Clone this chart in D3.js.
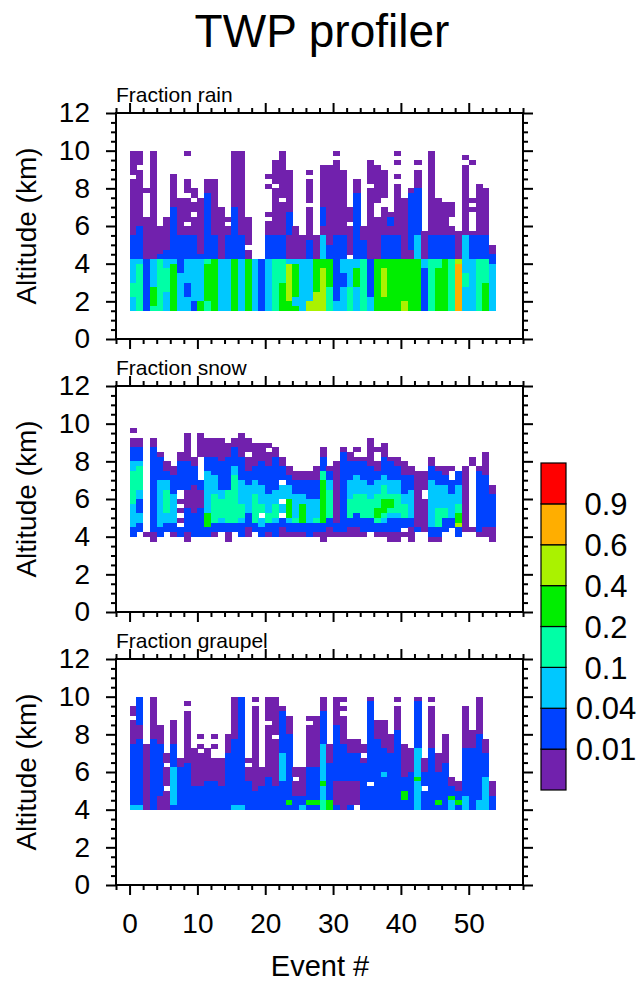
<!DOCTYPE html>
<html><head><meta charset="utf-8">
<script src="https://cdn.jsdelivr.net/npm/d3@7"></script>
<style>
body{margin:0;background:#fff}
text{font-family:"Liberation Sans",Arial,Helvetica,sans-serif;fill:#000}
</style></head>
<body><svg id="chart" width="639" height="982"></svg>
<script>
// ---------------- data ----------------
const xTicks = [0, 10, 20, 30, 40, 50];
const xMinorTicks = [-2, 2, 4, 6, 8, 12, 14, 16, 18, 22, 24, 26, 28, 32, 34, 36, 38, 42, 44, 46, 48, 52, 54, 56, 58];
const yTicks = [0, 2, 4, 6, 8, 10, 12];
const yMinorTicks = [0.5,1,1.5,2.5,3,3.5,4.5,5,5.5,6.5,7,7.5,8.5,9,9.5,10.5,11,11.5];
const colorLevels = [0.01, 0.04, 0.1, 0.2, 0.4, 0.6, 0.9];
const colorbarLabels = ["0.01", "0.04", "0.1", "0.2", "0.4", "0.6", "0.9"];
const palette = ["#7121ad", "#0042ff", "#00c8ff", "#00ffa6", "#00ee00", "#aaf200", "#ffae00", "#ff0000"];
// cell codes -> representative fraction value
const codeValue = {a: 0.005, b: 0.02, c: 0.07, d: 0.15, e: 0.3, f: 0.5, g: 0.75, h: 0.95};
const binSize = 0.25; // km
const panelTitles = ["Fraction rain", "Fraction snow", "Fraction graupel"];
const topAltitude = [10.0, 9.75, 10.0]; // km, top of first bin in each column string

// rain: columns (event 0..53), bins from 10 km downward ("|" separators only for readability)
const rainCols = [
"aaaaa.aaaaaaaaaaaa|bbbbb|cccccdddccc",
"aaa.aaaaaaaaaaaabb|bbbbb|cdddddddddd",
"........a.....aaaa|aaaaa|bbbbbbbbbbb",
"aaaaaaaaaaaaaaaaaa|aaaaa|cccccceeeed",
"................aa|aaaab|ddddddddddd",
"..............aaaa|aaabb|ccdddddcccc",
".....aaaaaaabbbbbb|bbbbb|ceeeeeeeeee",
"..........aaaaaaaa|bbbbb|bbbcccccccc",
"a.....aaa.aaaaa.aa|bbbbb|cccccbbbccc",
"........aa.aa.aaaa|bbbbb|cccccccccbb",
"..........aaaaaaaa|aaaab|cccccccccee",
"......aaabbbbbbbbb|bbbbb|deeeeeeeedd",
"......aaaaaaaaaaaa|bbbbb|eeeeeeeeeee",
"............aaaaaa|aaaaa|ccccccccccc",
"..............a.aa|bbbbb|ccccccccccc",
"aaaaaaaaaaaabbbbbb|bbbbb|eeeeeeeeeee",
"aaaaaaaaaaaaaaaaaa|bbbbb|ccccccccccc",
"..............aaaa|aa.aa|eeeeeeeeeee",
"..................|.....|ccccccccccc",
"..................|.....|bbbbbbbbbbb",
".....a.a.....a.aaa|bbbbb|ccccccccccc",
"..aaaaa.aaaaaaaaaa|bbbbb|ddddddddddd",
"aaaaaaaaaa.aaaaaaa|bbbbb|dddddeeeeee",
"....aaaaaaaaabbbbb|aaaaa|cffffffffee",
"................aa|aaaaa|ceeeeeeecce",
"..................|aaaaa|ccccccccccc",
"....a.aaaaa.aaaaaa|abbbb|cccccccccff",
"..................|aaaaa|eeeeeeeffff",
"...aaaaaaaaabbbbaa|ccccc|eefffffffff",
"...aaaaaaaaaaaaaaa|aabbb|eeeeeeddddd",
"a.aaaaaaaaaaaaaaaa|bbbbb|bbbbbbbbbcc",
"....aaaaaaaaaaaaaa|bbbbb|cccbbbccccc",
"............aaa.aa|aaaa.|ccccccddddd",
"......aaabbbbbbbbb|bbbbb|cceeeeccccc",
"................aa|abbbb|ddddddddddd",
"..aaaaa.aaaaaaaaaa|aaaaa|bbbbbbbbccc",
"...aaaaaaaa...aaaa|aaaaa|eeeeeeeeeee",
"....aaaaaa..aaaaaa|bbbbb|eeffffffeee",
".............abbaa|bbbbb|eeeeeeeeeee",
"a.a..a.aaaaaaaaaaa|bbbbb|eeeeeeeeeee",
"..........aaaaaaaa|aaaaa|eeeeeeeeeff",
"........abbbbbbbbb|bbbaa|eeeeeeeeeee",
"..a.aaaabbbbbbbbbb|ccccc|eeeeeeeeeee",
".................a|aaaaa|ccbbbbbbbbb",
"aaaaaaaaaaaaaaaaaa|bbbbb|ddddddddddd",
"..........aaaaaaaa|bbbbb|ddeeeeeeeee",
"...........aaaaaaa|bbbbb|eeeeeeeeeee",
"...........aaa..aa|bbbbb|ddddddddddd",
".................a|aaaaa|fgggggggggg",
".a.aaaaaaaaaaaaaaa|ccccc|cccdddccccc",
"..a.......a.a....a|bbbbb|ccccccccccc",
".......aaaaaaaaaaa|bbbbb|ddddddddddd",
"........aaaaaaaaaa|bbbbb|dddddeeeeee",
"..................|..aab|bcccccccccc"
];

// snow: bins from 9.75 km downward
const snowCols = [
"a.aabbbccdddddddcccccbb.",
"..aabbbcdddddccbbbccbb..",
"......................a.",
"..aabbbbbbbbbbbbbbbbbbaa",
".....abbbbbccccccccccbb.",
".......aabbccdddddccbb..",
"........aabbbbccccccbba.",
".....aabbbbbb..a.a.a.bb.",
".aaaaaabbbbbbaaaabbbbbaa",
"......aabbbbaaaaaabbbbb.",
".aaaaa.....bbaaaabbbbbb.",
"..aaaabbbccccccccceeebb.",
"..aaaabbbbccccddddddbba.",
"..aaaaabbbbbbccddddcbb..",
"...aaabbbbbbbdddddddbbaa",
"..aabbbbccddddddddddbb..",
".aaaaabbbbbcccccdddcbbb.",
"..aaa.aaabbbccccccbbbaa.",
"...aaaaabbbcccddddddbb..",
"...aaaabbbbbccccdd.ccbb.",
"...a.aaabbbbbbccccddbba.",
"....aabbbbbbbcccdddcbbb.",
"......aabbb.ccc.cc.bbaa.",
"........aabbccceeeecbba.",
".........aabbbcccccdbba.",
".........aabbbcceeeebba.",
".........aabbbbcccccbbb.",
"........aaabbbbccccdbba.",
"....aabbbddeeeeeeeeebbaa",
"........abbccddddddbbaa.",
".......aaaaaaaaaaaaabba.",
"....abbbbbbbbbbbbbbbbba.",
".....aabbbbccccddddbbaa.",
"....a.abbbccccddddbbbaa.",
"......abbbbcccdddddbbba.",
"..aaaaaabbbbcccddddbbb..",
"....a..aabbcccdddeedbba.",
"...aaabbbbccdddeeedcbba.",
"......abbbbcccdeedcbbbaa",
"......aabbbcccddddcbbbaa",
".......aaabbbbccdddbb.a.",
"........aabbbccccccbbaaa",
".........aaaaaaaaaaaab..",
".........aaaa..aaaaaaa..",
"......aabbbccccccccccbba",
"........abbbcccccddddbba",
"........aabbcccccddbbb..",
"........a..bbbcccccbb...",
".........bbbccccddeefbb.",
"........aaaaaaaaaaaaaa..",
"......aa.............a..",
"........abbbbbbbbbbbbba.",
".....aaaaabbbbbbbbbbbaa.",
"............aabbbbbbbaaa"
];

// graupel: bins from 10 km downward
const graupelCols = [
"..aa.aaaaabbbbbbbbbbbbbc",
"bbbbbbaaabbbbbbbbbbbbbbc",
"..........aaaaaaaaaaaaaa",
"aaaaaaaaabbbbbbbbbbbbbbb",
"......aaaabbbbbbbbbbbaaa",
"............aa.aaaa.aaaa",
".....aaaaabbbbbccccccccb",
".............aabbbbbbbbb",
".a.aaaaaaaaaaabbbbbbbbbb",
"...........aaaaaaaabbbbb",
"........a.a.aaaaaaabbbbb",
"...........aaaaaaabbbbbb",
"........a.a..aaaaabbbbbb",
".............aaaaaabbbbb",
"........aaaabbbbbbbbbbbb",
"aaaaaaaaabbbbbbbbbbbbbbc",
"bbbbbbbbbbbbbbbbbbbbbbbc",
".............a.aaabbbbbb",
"a.aaaaaaaaaaaaaaaaaabbbb",
"...............aaaabbbbb",
"aaaaa.aaaaaaaaaaabbbbbbb",
"aaaaaaaa.aaaaaaaaaabbbbb",
"..abbbbbbbbbccccccbbbbbb",
"....aaaabbbbbbbbbbbbbbeb",
"...............aa.aaabbb",
"...............aaaaaabbc",
"....a.aaaaaaaaabbbbbbbeb",
"....aaaaaaaaaaabbbbbbbeb",
"aaabbbbbbbccccccccecccdd",
"..........aaaabbbbbbbbee",
"aaaaaabbbbbbbbbbbbaaaaab",
"a.a.aaaaaabbbbbbbbaaaaaa",
".........aaabbbbbbaaaaab",
".........aaabbbbbbaaaaa.",
"..........aa.abbbbbbbbbb",
"abbbbbbbbbbbbbbbbb.bbbbb",
".....aaaabbbbbbbbbbbbbbb",
".....aaaaaabbbbbcbbbbbbb",
"........aaaabbbbbbbbbbbb",
"a.aaaaabbbbbbbbbbbbbbbbb",
"..........aaaaaaabbbeebb",
"...........aaaaabbbbbbbb",
"abbbbbbbbbbccccccecccccc",
".............aaabbb.bbbb",
"a.aaaaaaaaabbbbbbbbbbbbb",
"............aaaabbbbbbeb",
"........aaaaaabbbbbbbbbb",
".................aabbecc",
"..................aabbeb",
"..aaaaaaaaabbbbbbbbbbccc",
".......aaaabbbbbbbbbbbbb",
"aaaaaaaabbbbbbbbbbbbbbcc",
".........aaabbbbbccccccc",
"..................aaabbb"
];
const panelData = [rainCols, snowCols, graupelCols];

// ---------------- layout ----------------
const W = 639, H = 982;
const plotLeft = 116, plotRight = 523;
const panelTops = [113, 386, 659];
const panelH = 226;
const svg = d3.select("#chart");

const x = d3.scaleLinear().domain([-2, 58]).range([plotLeft, plotRight]);
const color = d3.scaleThreshold().domain(colorLevels).range(palette);

svg.append("text").attr("x", 322).attr("y", 47).attr("text-anchor", "middle")
  .style("font-size", "46px").text("TWP profiler");

panelData.forEach((cols, p) => {
  const top = panelTops[p];
  const y = d3.scaleLinear().domain([0, 12]).range([top + panelH, top]);
  const g = svg.append("g");

  // cells
  const cells = [];
  cols.forEach((s, i) => {
    const codes = s.replace(/\|/g, "");
    for (let j = 0; j < codes.length; j++) {
      const c = codes[j];
      if (codeValue[c] === undefined) continue;
      const a1 = topAltitude[p] - j * binSize;
      cells.push({ev: i, hi: a1, lo: a1 - binSize, v: codeValue[c]});
    }
  });
  g.append("g").selectAll("rect").data(cells).join("rect")
    .attr("x", d => x(d.ev))
    .attr("width", d => x(d.ev + 1) - x(d.ev) + 0.3)
    .attr("y", d => y(d.hi))
    .attr("height", d => y(d.lo) - y(d.hi) + 0.3)
    .attr("fill", d => color(d.v))
    .attr("shape-rendering", "crispEdges");

  // axes (ticks outward on all sides)
  const styleAxis = sel => {
    sel.select(".domain").remove();
    sel.selectAll("line").attr("stroke", "#000").attr("stroke-width", 2);
    sel.selectAll("text").style("font-size", "28px").attr("fill", "#000");
  };
  const bottom = top + panelH;
  g.append("g").attr("transform", `translate(0,${bottom})`)
    .call(d3.axisBottom(x).tickValues(xTicks).tickSize(10).tickPadding(18)
      .tickFormat(p === 2 ? d3.format("d") : () => ""))
    .call(styleAxis);
  g.append("g").attr("transform", `translate(0,${bottom})`)
    .call(d3.axisBottom(x).tickValues(xMinorTicks).tickSize(5).tickFormat(() => ""))
    .call(styleAxis);
  g.append("g").attr("transform", `translate(0,${top})`)
    .call(d3.axisTop(x).tickValues(xTicks).tickSize(10).tickFormat(() => ""))
    .call(styleAxis);
  g.append("g").attr("transform", `translate(0,${top})`)
    .call(d3.axisTop(x).tickValues(xMinorTicks).tickSize(5).tickFormat(() => ""))
    .call(styleAxis);
  g.append("g").attr("transform", `translate(${plotLeft},0)`)
    .call(d3.axisLeft(y).tickValues(yTicks).tickSize(10).tickPadding(16).tickFormat(d3.format("d")))
    .call(styleAxis);
  g.append("g").attr("transform", `translate(${plotLeft},0)`)
    .call(d3.axisLeft(y).tickValues(yMinorTicks).tickSize(5).tickFormat(() => ""))
    .call(styleAxis);
  g.append("g").attr("transform", `translate(${plotRight},0)`)
    .call(d3.axisRight(y).tickValues(yTicks).tickSize(10).tickFormat(() => ""))
    .call(styleAxis);
  g.append("g").attr("transform", `translate(${plotRight},0)`)
    .call(d3.axisRight(y).tickValues(yMinorTicks).tickSize(5).tickFormat(() => ""))
    .call(styleAxis);

  g.append("rect").attr("x", plotLeft).attr("y", top)
    .attr("width", plotRight - plotLeft).attr("height", panelH)
    .attr("fill", "none").attr("stroke", "#000").attr("stroke-width", 2);

  g.append("text").attr("x", plotLeft).attr("y", top - 11)
    .style("font-size", "21px").text(panelTitles[p]);

  g.append("text").attr("transform", `translate(36,${top + panelH / 2}) rotate(-90)`)
    .attr("text-anchor", "middle").style("font-size", "28px").text("Altitude (km)");
});

svg.append("text").attr("x", 320).attr("y", 976).attr("text-anchor", "middle")
  .style("font-size", "29px").text("Event #");

// colorbar
const cbX = 541, cbW = 25, cbTop = 463, cbBottom = 790;
const cb = d3.scaleBand().domain(d3.range(palette.length)).range([cbBottom, cbTop]);
svg.append("g").selectAll("rect").data(palette).join("rect")
  .attr("x", cbX).attr("y", (d, i) => cb(i)).attr("width", cbW).attr("height", cb.bandwidth())
  .attr("fill", d => d).attr("stroke", "#000").attr("stroke-width", 1.2);
svg.append("g").selectAll("text").data(colorbarLabels).join("text")
  .attr("x", 606).attr("y", (d, i) => cb(i)).attr("dy", "0.36em")
  .attr("text-anchor", "middle").style("font-size", "31px").text(d => d);
</script></body></html>
